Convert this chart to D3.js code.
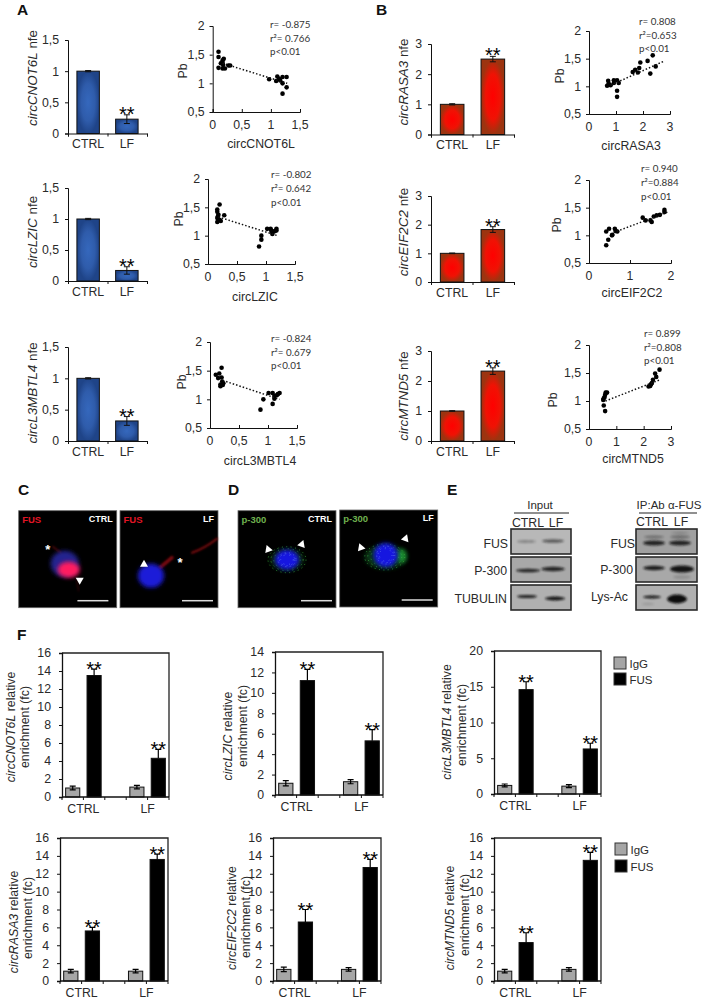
<!DOCTYPE html>
<html><head><meta charset="utf-8">
<script src="https://cdn.jsdelivr.net/npm/d3@7"></script>
<style>
html,body{margin:0;padding:0;background:#fff}
svg{display:block}
text{font-family:"Liberation Sans",Arial,sans-serif;fill:#2a2a2a}
.tick text{font-size:12.3px;fill:#2a2a2a}
.tick line,.domain{stroke:#111}
</style></head><body><div id="c"></div>
<script>
// ---------- data ----------
const nfeGroups = ["CTRL","LF"];
const nfeTicksA = [0,0.5,1,1.5];
const nfeTicksB = [0,1,2,3];
const cnot6lNfe = [1,0.23],  cnot6lNfeErr = [0.01,0.07];
const lzicNfe   = [1,0.17],  lzicNfeErr   = [0.01,0.06];
const l3mNfe    = [1,0.32],  l3mNfeErr    = [0.01,0.07];
const rasa3Nfe  = [1,2.5],   rasa3NfeErr  = [0.02,0.09];
const eif2c2Nfe = [1,1.83],  eif2c2NfeErr = [0.01,0.1];
const mtnd5Nfe  = [1,2.33],  mtnd5NfeErr  = [0.01,0.11];

const pbTicks = [0.5,1,1.5,2];
const xTicksLow = [0,0.5,1,1.5];
const xTicks2 = [0,1,2];
const xTicks3 = [0,1,2,3];
const cnot6lPts = [[.10,1.55],[.10,1.46],[.10,1.27],[.17,1.26],[.17,1.40],[.19,1.43],[.14,1.35],[.17,1.36],[.18,1.32],[.21,1.26],[.27,1.31],[.30,1.31],[.97,1.07],[1.09,1.04],[1.11,1.12],[1.16,1.05],[1.2,1.11],[1.27,1.11],[1.2,1.0],[1.2,.82],[1.27,.93],[1.14,1.08]];
const lzicPts = [[.2,1.55],[.16,1.46],[.16,1.42],[.18,1.37],[.16,1.31],[.16,1.24],[.2,1.28],[.22,1.26],[.28,1.36],[.17,1.34],[.88,.81],[.92,.93],[.92,1.0],[1.02,1.12],[1.08,1.12],[1.11,1.06],[1.11,1.03],[1.15,1.08],[1.18,1.12],[1.18,1.09],[1.09,1.09]];
const l3mPts = [[.2,1.55],[.16,1.45],[.1,1.43],[.14,1.37],[.2,1.38],[.21,1.31],[.18,1.26],[.23,1.28],[.18,1.23],[.22,1.25],[.87,.82],[.92,1.0],[1.01,1.11],[1.08,1.11],[1.08,.92],[1.11,1.06],[1.11,1.01],[1.15,1.07],[1.2,1.11],[1.17,1.09]];
const rasa3Pts = [[2.36,1.56],[2.17,1.46],[1.9,1.43],[2.47,1.36],[2.27,1.23],[1.86,1.33],[1.62,1.26],[1.71,1.3],[1.81,1.25],[.71,1.1],[.92,1.11],[1.04,1.11],[.73,1.05],[.67,1.01],[.8,1.02],[1.1,1.06],[1.04,.92],[1.04,.81],[.92,1.06]];
const eif2c2Pts = [[.42,.82],[.47,.92],[.42,1.07],[.49,1.12],[.57,1.01],[.56,1.0],[.63,1.12],[.65,1.08],[.69,1.07],[1.31,1.32],[1.38,1.27],[1.5,1.27],[1.53,1.24],[1.58,1.34],[1.65,1.36],[1.73,1.37],[1.84,1.46],[1.84,1.42]];
const mtnd5Pts = [[.59,.82],[.54,.92],[.52,1.02],[.54,1.05],[.59,1.11],[.61,1.15],[.66,1.15],[.57,1.07],[2.18,1.26],[2.24,1.27],[2.3,1.32],[2.34,1.38],[2.42,1.49],[2.46,1.43],[2.58,1.56],[2.27,1.3]];
const cnot6lFit = [[.17,1.35],[1.28,1.0]];
const lzicFit = [[.18,1.33],[1.2,1.0]];
const l3mFit = [[.22,1.33],[1.2,1.0]];
const rasa3Fit = [[.8,1.02],[2.8,1.46]];
const eif2c2Fit = [[.6,1.05],[1.95,1.43]];
const mtnd5Fit = [[.6,1.0],[2.6,1.38]];

const ripBands = ["CTRL IgG","CTRL FUS","gap","LF IgG","LF FUS"];
const ripSeries = ["IgG","FUS"];
const ticks16 = [0,2,4,6,8,10,12,14,16];
const ticks14 = [0,2,4,6,8,10,12,14];
const ticks20 = [0,5,10,15,20];
const cnot6lRip = [1,13.5,1.1,4.3],   cnot6lRipErr = [.2,.7,.2,1.0];
const lzicRip   = [1.15,11.2,1.3,5.3], lzicRipErr  = [.25,1.1,.2,1.1];
const l3mRip    = [1.2,14.6,1.1,6.3],  l3mRipErr   = [.2,1.1,.2,.8];
const rasa3Rip  = [1.1,5.6,1.1,13.6],  rasa3RipErr = [.2,.4,.2,.6];
const eif2c2Rip = [1.3,6.6,1.3,12.7],  eif2c2RipErr= [.25,1.4,.2,.9];
const mtnd5Rip  = [1.1,4.3,1.3,13.5],  mtnd5RipErr = [.2,1.1,.2,.9];

// ---------- page ----------
const W=704,H=1003;
const svg=d3.select("#c").append("svg").attr("width",W).attr("height",H);
const defs=svg.append("defs");
function radial(id,c,m,e){const g=defs.append("radialGradient").attr("id",id);
  g.append("stop").attr("offset","0%").attr("stop-color",c);
  g.append("stop").attr("offset","60%").attr("stop-color",m);
  g.append("stop").attr("offset","100%").attr("stop-color",e);}
radial("blueFill","#3568bd","#2f5cab","#1f4488");
radial("redFill","#ff0000","#f01204","#9c3410");
[[.6,"b06"],[1,"b1"],[2,"b2"],[3.5,"b3"]].forEach(([s,id])=>defs.append("filter").attr("id",id)
  .attr("x","-60%").attr("y","-60%").attr("width","220%").attr("height","220%")
  .append("feGaussianBlur").attr("stdDeviation",s));

const comma=d=>String(d).replace(".",",");
function txt(g,x,y,s,o={}){const t=g.append("text").attr("x",x).attr("y",y).text(s)
  .style("font-size",(o.size||12.3)+"px");
  if(o.anchor)t.attr("text-anchor",o.anchor);
  if(o.weight)t.style("font-weight",o.weight);
  if(o.fill)t.style("fill",o.fill);
  if(o.family)t.style("font-family",o.family);
  return t;}
function rotLabel(g,cx,cy,parts,size){
  const t=g.append("text").attr("transform",`translate(${cx},${cy}) rotate(-90)`).attr("text-anchor","middle")
    .style("font-size",size+"px");
  parts.forEach(([s,it])=>t.append("tspan").text(s).style("font-style",it?"italic":"normal"));
}
function styleAxis(a,w){a.selectAll(".domain").attr("stroke-width",w);a.selectAll(".tick line").attr("stroke-width",1);}
function stars(g,x,y){txt(g,x,y,"**",{size:20,anchor:"middle",fill:"#000"});}

function nfeBar(f,vals,errs,ticks,fill,name,lab){
  const g=svg.append("g");
  const x=d3.scaleBand().domain(nfeGroups).range([f.l,f.r]).paddingInner(.42).paddingOuter(.23);
  const y=d3.scaleLinear().domain(d3.extent(ticks)).range([f.b,f.t]);
  g.selectAll("rect").data(vals).join("rect").attr("x",(d,i)=>x(nfeGroups[i])).attr("width",x.bandwidth())
    .attr("y",d=>y(d)).attr("height",d=>f.b-y(d)).attr("fill",`url(#${fill})`).attr("stroke","#111").attr("stroke-width",1);
  vals.forEach((v,i)=>{const cx=x(nfeGroups[i])+x.bandwidth()/2;
    const e=errs[i];
    g.append("path").attr("fill","none").attr("stroke","#111").attr("stroke-width",1)
      .attr("d",`M${cx-3},${y(v+e)}H${cx+3}M${cx},${y(v+e)}V${y(v-e)}M${cx-3},${y(v-e)}H${cx+3}`);
    if(i==1)stars(g,cx,y(v+e)+6);
  });
  const ay=g.append("g").attr("transform",`translate(${f.l},0)`).call(d3.axisLeft(y).tickValues(ticks).tickFormat(comma).tickSize(3).tickPadding(6));
  styleAxis(ay,1);
  const xb=d3.axisBottom(d3.scalePoint().domain([0,1,2]).range([f.l,f.r])).tickSize(3).tickFormat("");
  const ax=g.append("g").attr("transform",`translate(0,${f.b})`).call(xb);styleAxis(ax,1);
  nfeGroups.forEach(c=>txt(g,x(c)+x.bandwidth()/2,f.b+14.5,c,{anchor:"middle"}));
  rotLabel(g,lab.x,lab.y,[[name,true],[" nfe",false]],13.4);
}
function scatter(f,pts,fit,xT,name,lab,stats){
  const g=svg.append("g");
  const x=d3.scaleLinear().domain(d3.extent(xT)).range([f.l,f.r]);
  const y=d3.scaleLinear().domain([.5,2]).range([f.b,f.t]);
  g.selectAll("circle").data(pts).join("circle").attr("cx",d=>x(d[0])).attr("cy",d=>y(d[1])).attr("r",2.3).attr("fill","#000");
  g.append("line").attr("x1",x(fit[0][0])).attr("y1",y(fit[0][1])).attr("x2",x(fit[1][0])).attr("y2",y(fit[1][1]))
    .attr("stroke","#111").attr("stroke-width",1.5).attr("stroke-dasharray","1.5 2");
  const ay=g.append("g").attr("transform",`translate(${f.l},0)`).call(d3.axisLeft(y).tickValues(pbTicks).tickFormat(comma).tickSize(3).tickPadding(5));
  styleAxis(ay,1);
  const ax=g.append("g").attr("transform",`translate(0,${f.b})`).call(d3.axisTop(x).tickValues(xT).tickFormat("").tickSize(3));
  ax.selectAll(".domain").attr("stroke-width",1);
  xT.forEach(v=>txt(g,x(v),f.b+16.5,comma(v),{anchor:"middle"}));
  txt(g,lab.x,lab.y,name,{anchor:"middle"});
  rotLabel(g,lab.py+4,lab.pc,[["Pb",false]],12.3);
  stats.t.forEach((s,i)=>txt(g,stats.x,stats.y+i*stats.dy,s,{size:9.8,family:"Lato,'Open Sans',sans-serif",fill:"#333"}));
}
function rip(f,vals,errs,ticks,name,lab){
  const g=svg.append("g");
  const x=d3.scaleBand().domain(ripBands).range([f.l,f.r]);
  const y=d3.scaleLinear().domain(d3.extent(ticks)).range([f.b,f.t]);
  const names=ripBands.filter(b=>b!="gap");
  const bw=x.bandwidth()*.66;
  const cxOf=i=>x(names[i])+x.bandwidth()/2;
  g.selectAll("rect").data(vals).join("rect").attr("x",(d,i)=>cxOf(i)-bw/2).attr("width",bw)
    .attr("y",d=>y(d)).attr("height",d=>f.b-y(d)).attr("fill",(d,i)=>i%2?"#000":"#a6a6a6").attr("stroke","#111").attr("stroke-width",1);
  vals.forEach((v,i)=>{const cx=cxOf(i),e=errs[i];
    g.append("path").attr("fill","none").attr("stroke","#000").attr("stroke-width",1.2)
      .attr("d",`M${cx-3},${y(v+e)}H${cx+3}M${cx},${y(v+e)}V${y(i%2?v:v-e)}`+(i%2?"":`M${cx-3},${y(v-e)}H${cx+3}`));
    if(i%2)stars(g,cx,y(v+e)+7);
  });
  g.append("path").attr("fill","none").attr("stroke","#222").attr("stroke-width",1.3).attr("d",`M${f.l},${f.t}H${f.r}V${f.b}`);
  const ay=g.append("g").attr("transform",`translate(${f.l},0)`).call(d3.axisLeft(y).tickValues(ticks).tickSize(3).tickPadding(8));
  styleAxis(ay,1.3);
  const edges=d3.range(ripBands.length+1).map(i=>f.l+i*x.step());
  g.append("g").attr("transform",`translate(0,${f.b})`).selectAll("line").data(edges).join("line")
    .attr("x1",d=>d).attr("x2",d=>d).attr("y1",0).attr("y2",3).attr("stroke","#111");
  g.append("line").attr("x1",f.l).attr("x2",f.r).attr("y1",f.b).attr("y2",f.b).attr("stroke","#111").attr("stroke-width",1.3);
  nfeGroups.forEach((c,i)=>txt(g,x(ripBands[i*3+1]),f.b+16,c,{anchor:"middle"}));
  rotLabel(g,lab.x1,lab.y1,[[name,true],[" relative",false]],12.3);
  rotLabel(g,lab.x2,lab.y2,[["enrichment (fc)",false]],12.3);
}
function legend(x,y1,y2){
  const g=svg.append("g");
  ripSeries.forEach((s,i)=>{const y=i?y2:y1;
    g.append("rect").attr("x",x).attr("y",y).attr("width",12).attr("height",12)
      .attr("fill",i?"#000":"#a6a6a6").attr("stroke","#333").attr("stroke-width",1);
    txt(g,x+15.5,y+10.5,s,{size:11.5});});
}

// panel letters
[["A",17,15],["B",376,15],["C",18,495],["D",228,495],["E",447,495],["F",17,640]].forEach(([s,x,y])=>
  txt(svg,x,y,s,{size:15.5,weight:"bold",fill:"#111"}));

// A and B bar charts
nfeBar({l:68,r:147,t:40,b:133.5},cnot6lNfe,cnot6lNfeErr,nfeTicksA,"blueFill","circCNOT6L",{x:37,y:78});
nfeBar({l:68,r:147,t:188,b:281},lzicNfe,lzicNfeErr,nfeTicksA,"blueFill","circLZIC",{x:37,y:232});
nfeBar({l:68,r:147,t:347,b:441},l3mNfe,l3mNfeErr,nfeTicksA,"blueFill","circL3MBTL4",{x:37,y:393});
nfeBar({l:431,r:514,t:44,b:134.5},rasa3Nfe,rasa3NfeErr,nfeTicksB,"redFill","circRASA3",{x:408,y:82});
nfeBar({l:431,r:514,t:196,b:282},eif2c2Nfe,eif2c2NfeErr,nfeTicksB,"redFill","circEIF2C2",{x:408,y:232});
nfeBar({l:431,r:514,t:351,b:441},mtnd5Nfe,mtnd5NfeErr,nfeTicksB,"redFill","circMTND5",{x:408,y:396});

// correlations
scatter({l:212.7,r:300,t:26,b:112},cnot6lPts,cnot6lFit,xTicksLow,"circCNOT6L",{x:261,y:148,py:183,pc:71},{x:270,y:28,dy:13.6,t:["r= -0.875","r²= 0.766","p<0.01"]});
scatter({l:208,r:295,t:179,b:264},lzicPts,lzicFit,xTicksLow,"circLZIC",{x:255,y:301,py:179,pc:219},{x:271,y:178,dy:14,t:["r= -0.802","r²= 0.642","p<0.01"]});
scatter({l:210,r:297,t:342,b:428},l3mPts,l3mFit,xTicksLow,"circL3MBTL4",{x:260,y:465,py:182,pc:382},{x:271,y:342,dy:13.6,t:["r= -0.824","r²= 0.679","p<0.01"]});
scatter({l:589,r:670,t:31,b:114},rasa3Pts,rasa3Fit,xTicks3,"circRASA3",{x:631,y:150,py:560,pc:76},{x:639,y:25,dy:13.6,t:["r= 0.808","r²=0.653","p<0.01"]});
scatter({l:589,r:671,t:180,b:263},eif2c2Pts,eif2c2Fit,xTicks2,"circEIF2C2",{x:632,y:297,py:557,pc:225},{x:641,y:172,dy:14,t:["r= 0.940","r²=0.884","p<0.01"]});
scatter({l:589,r:671,t:345,b:429},mtnd5Pts,mtnd5Fit,xTicks3,"circMTND5",{x:633,y:463,py:553,pc:400},{x:644,y:337,dy:13.6,t:["r= 0.899","r²=0.808","p<0.01"]});

// F charts
rip({l:62,r:169,t:653,b:797},cnot6lRip,cnot6lRipErr,ticks16,"circCNOT6L",{x1:15,y1:727,x2:29,y2:727});
rip({l:275,r:383,t:652,b:795},lzicRip,lzicRipErr,ticks14,"circLZIC",{x1:232,y1:736,x2:247,y2:726});
rip({l:494,r:601,t:651,b:794},l3mRip,l3mRipErr,ticks20,"circL3MBTL4",{x1:451,y1:722,x2:466,y2:725});
rip({l:60,r:168,t:838,b:981},rasa3Rip,rasa3RipErr,ticks16,"circRASA3",{x1:18,y1:922,x2:32,y2:918});
rip({l:273,r:381,t:838,b:981},eif2c2Rip,eif2c2RipErr,ticks16,"circEIF2C2",{x1:236,y1:918,x2:250,y2:917});
rip({l:494,r:601,t:838,b:981},mtnd5Rip,mtnd5RipErr,ticks16,"circMTND5",{x1:454,y1:918,x2:469,y2:915});
legend(614,657,673);
legend(615,843,860);

// ---------- micrographs (illustrative) ----------
function micro(x0,y0,label,labelFill,cond,barX,draw){
  const g=svg.append("g").attr("transform",`translate(${x0},${y0})`);
  g.append("rect").attr("width",98).attr("height",97).attr("fill","#000").attr("stroke","#666").attr("stroke-width",.8);
  draw(g);
  txt(g,3.5,12,label,{size:9.5,weight:"bold",fill:labelFill});
  txt(g,94,11,cond,{size:9,weight:"bold",fill:"#fff",anchor:"end"});
  g.append("line").attr("x1",barX).attr("x2",barX+31).attr("y1",90).attr("y2",90).attr("stroke","#ddd").attr("stroke-width",1.5);
}
const ell=(g,cx,cy,rx,ry,fill,f,op=1)=>g.append("ellipse").attr("cx",cx).attr("cy",cy).attr("rx",rx).attr("ry",ry).attr("fill",fill).attr("filter",f?`url(#${f})`:null).attr("opacity",op);
const tri=(g,cx,cy,rot)=>g.append("path").attr("d","M0,-4L4,3L-4,3Z").attr("fill","#fff").attr("transform",`translate(${cx},${cy}) rotate(${rot})`);
const ast=(g,cx,cy)=>txt(g,cx,cy+6,"*",{size:13,anchor:"middle",fill:"#fff",weight:"bold"});
const streak=(g,d,w,op)=>g.append("path").attr("d",d).attr("fill","none").attr("stroke","#b01018").attr("stroke-width",w).attr("stroke-linecap","round").attr("filter","url(#b1)").attr("opacity",op);
function speck(g,cx,cy,rx,ry,col,op){
  [[rx,"1 3.4"],[rx*.85,"1 4"],[rx*.7,"1 4.6"]].forEach(([r,dash])=>g.append("ellipse")
    .attr("cx",cx).attr("cy",cy).attr("rx",r).attr("ry",ry*r/rx).attr("fill","none").attr("stroke",col).attr("stroke-width",1).attr("stroke-dasharray",dash).attr("opacity",op).attr("filter","url(#b06)"));
}
micro(18.7,510.7,"FUS","#e01525","CTRL",58.7,g=>{
  streak(g,"M34,36L42,42",1.5,.5);
  ell(g,46,53,14,13,"#2a2aa8","b2",.85);
  ell(g,50,59,11,8,"#ff1a60","b2");
  streak(g,"M58,70L60,80",1.5,.25);
  ast(g,29,37);tri(g,61,70,180);
});
micro(120,510.7,"FUS","#e01525","LF",62,g=>{
  streak(g,"M40,57L52,47",3.5,.7);
  streak(g,"M72,42Q84,38 97,28",2,.75);
  ell(g,31,65,13,12,"#1a1ad8","b2");
  ast(g,60,50);tri(g,24,53,0);
});
micro(238,510.7,"p-300","#6fb04f","CTRL",63,g=>{
  ell(g,49,49,17,11,"#0a3a18","b2",.7);
  speck(g,49,49,19,13,"#3fae40",.8);
  ell(g,49,49,12,10,"#1414e0","b2");
  speck(g,49,49,9,7,"#6f90f0",.6);
  tri(g,30,38,-20);tri(g,64,33,20);
});
micro(339.7,510,"p-300","#6fb04f","LF",62,g=>{
  ell(g,46,47,21,12,"#0c4a1e","b2",.75);
  ell(g,62,46,5,7,"#1f9a34","b2",.85);
  speck(g,45,47,20,13,"#3fb444",.8);
  ell(g,46,45,12,12,"#1414e0","b2");
  speck(g,46,45,9,9,"#6f90f0",.6);
  tri(g,21,37,-20);tri(g,66,28,20);
});

// ---------- blots (illustrative) ----------
function blot(x0,y0,w,h,bg,bands){
  const g=svg.append("g");
  g.append("rect").attr("x",x0).attr("y",y0).attr("width",w).attr("height",h).attr("fill",bg).attr("stroke","#2a2a2a").attr("stroke-width",1.6);
  bands.forEach(b=>g.append("ellipse").attr("cx",x0+b[0]).attr("cy",y0+b[1]).attr("rx",b[2]).attr("ry",b[3]).attr("fill","#111").attr("opacity",b[4]).attr("filter","url(#b1)"));
}
blot(511,529,60,25,"#b8b8b8",[[14,12.5,8,1.5,.3],[22,12.5,3,1.2,.2],[42,12,11,1.8,.55]]);
blot(511,557,60,25,"#a8a8a8",[[17,13.5,12,1.7,.85],[42,12,12,2.2,.85]]);
blot(511,585,60,25,"#b0b0b0",[[16,11.5,10,1.6,.9],[44,13.5,10,1.9,.95]]);
blot(636,529,61,25,"#a0a0a0",[[18,14,11,2.6,.85],[18,8,10,1.5,.35],[44,14,11,2.6,.85],[44,8,10,1.5,.4],[44,4,9,1.2,.2]]);
blot(636,557,61,25,"#a8a8a8",[[18,11,11,2.2,.9],[46,12,12,3.6,.95],[46,20,9,2,.15]]);
blot(636,585,61,25,"#b0b0b0",[[16,12,9,1.4,.95],[41,14,10,4.4,1],[12,19,6,1,.15]]);

txt(svg,540,509,"Input",{anchor:"middle",size:11.5});
svg.append("line").attr("x1",514).attr("x2",569).attr("y1",513).attr("y2",513).attr("stroke","#222").attr("stroke-width",1.2);
txt(svg,528,527,"CTRL",{anchor:"middle",size:12.3});
txt(svg,556,527,"LF",{anchor:"middle",size:12.3});
txt(svg,508,548,"FUS",{anchor:"end"});
txt(svg,507,575,"P-300",{anchor:"end"});
txt(svg,507,603,"TUBULIN",{anchor:"end"});
txt(svg,669,509,"IP:Ab α-FUS",{anchor:"middle",size:11.5});
svg.append("line").attr("x1",639).attr("x2",697).attr("y1",513).attr("y2",513).attr("stroke","#222").attr("stroke-width",1.2);
txt(svg,652,526,"CTRL",{anchor:"middle"});
txt(svg,681,526,"LF",{anchor:"middle"});
txt(svg,635,548,"FUS",{anchor:"end"});
txt(svg,633,574,"P-300",{anchor:"end"});
txt(svg,628,601,"Lys-Ac",{anchor:"end"});
</script></body></html>
